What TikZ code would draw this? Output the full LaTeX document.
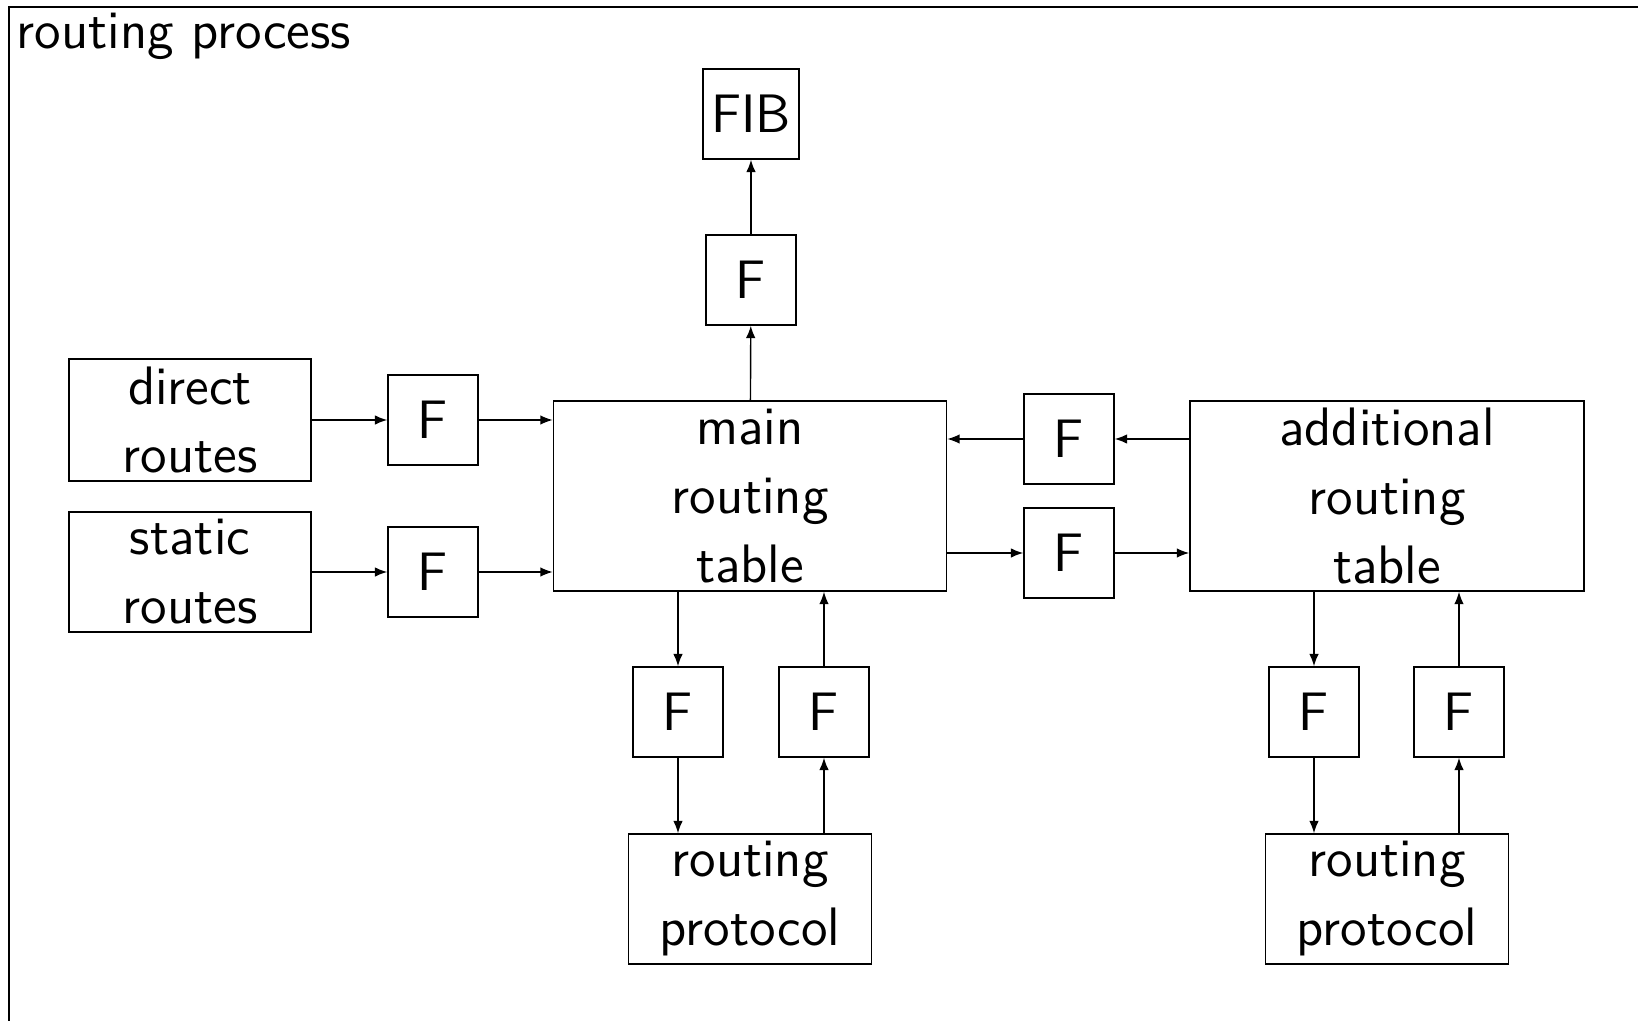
\documentclass[tikz,border=0pt]{standalone}
\usepackage{fontspec}
\usetikzlibrary{arrows.meta,positioning}
\begin{document}
\begin{tikzpicture}[x=0.01cm, y=-0.01cm, every node/.style={font=\fontsize{15.4pt}{19.6pt}\selectfont\sffamily}, box/.style={draw,align=center,inner sep=0pt}, filt/.style={box,minimum width=0.9cm,minimum height=0.9cm}, >={Latex[length=3.5pt,width=2.7pt]}]
\useasboundingbox (0,0) rectangle (1638,1021);
\draw (9,7) rectangle (1700,1100);
\node[anchor=base west,inner sep=0pt] (title) at (16,48) {routing process};
\node[box,minimum width=0.96cm,minimum height=0.9cm] (fib) at (751,114) {FIB};
\node[filt] (ftop) at (751,280) {F};
\node[box,minimum width=2.42cm,minimum height=1.22cm] (direct) at (190,420) {direct\\routes};
\node[box,minimum width=2.42cm,minimum height=1.2cm] (static) at (190,572) {static\\routes};
\node[filt] (fdir) at (433,420) {F};
\node[filt] (fsta) at (433,572) {F};
\node[box,minimum width=3.93cm,minimum height=1.9cm] (main) at (750,496) {main\\routing\\table};
\node[filt] (fback) at (1069,439) {F};
\node[filt] (fout) at (1069,553) {F};
\node[box,minimum width=3.94cm,minimum height=1.9cm] (addl) at (1387,496) {additional\\routing\\table};
\node[filt] (fmdown) at (678,712) {F};
\node[filt] (fmup) at (824,712) {F};
\node[box,minimum width=2.43cm,minimum height=1.3cm] (proto1) at (750,899) {routing\\protocol};
\node[filt] (fadown) at (1314,712) {F};
\node[filt] (faup) at (1459,712) {F};
\node[box,minimum width=2.43cm,minimum height=1.3cm] (proto2) at (1387,899) {routing\\protocol};
\draw[->] (direct) -- (fdir);\draw[->] (fdir) -- (fdir.east -| main.west);
\draw[->] (static) -- (fsta);\draw[->] (fsta) -- (fsta.east -| main.west);
\draw[->] (main) -- (ftop);\draw[->] (ftop) -- (fib);
\draw[->] (fback.east -| addl.west) -- (fback);\draw[->] (fback) -- (fback.west -| main.east);
\draw[->] (fout.west -| main.east) -- (fout);\draw[->] (fout) -- (fout.east -| addl.west);
\draw[->] (fmdown |- main.south) -- (fmdown);\draw[->] (fmdown) -- (fmdown |- proto1.north);
\draw[->] (fmup |- proto1.north) -- (fmup);\draw[->] (fmup) -- (fmup |- main.south);
\draw[->] (fadown |- addl.south) -- (fadown);\draw[->] (fadown) -- (fadown |- proto2.north);
\draw[->] (faup |- proto2.north) -- (faup);\draw[->] (faup) -- (faup |- addl.south);
\end{tikzpicture}
\end{document}
